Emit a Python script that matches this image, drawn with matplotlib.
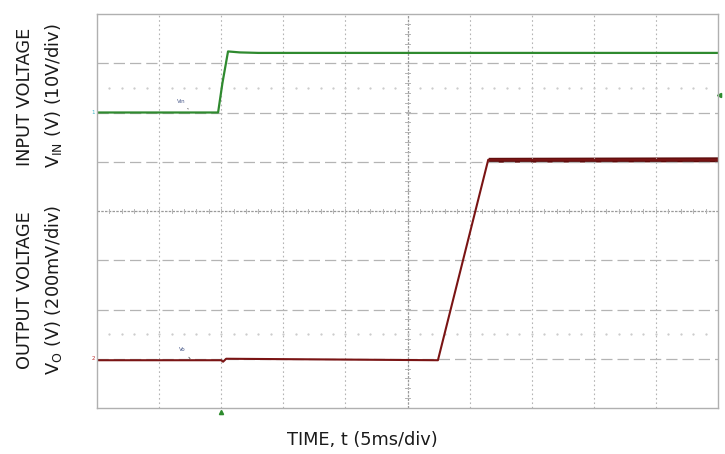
import matplotlib.pyplot as plt
import numpy as np

# time in divisions (5 ms/div), voltage in divisions from screen centre
vin_t = [0.0, 1.95, 2.02, 2.11, 2.3, 2.6, 10.0]
vin_y = [2.0, 2.0, 2.6, 3.24, 3.22, 3.21, 3.21]

vo_t = [0.0, 2.0, 2.03, 2.08, 5.49, 6.30, 10.0]
vo_y = [-3.03, -3.03, -3.06, -3.0, -3.03, 1.04, 1.04]

# noise envelope of the output plateau
vo_band_t = [6.30, 10.0]
vo_band_lo = [0.99, 1.0]
vo_band_hi = [1.09, 1.1]

ndiv_x = 10
ndiv_y = 8

fig = plt.figure(figsize=(7.25, 4.54), dpi=100)
ax = fig.add_axes([97 / 725, 46 / 454, 621 / 725, 394 / 454])
ax.set_xlim(0, ndiv_x)
ax.set_ylim(-ndiv_y / 2, ndiv_y / 2)

grid_c = '#b4b4b4'
for x in range(1, ndiv_x):
    if x == ndiv_x // 2:
        ax.axvline(x, color='#9a9a9a', lw=0.9, ls=(0, (2, 1)))
    else:
        ax.axvline(x, color=grid_c, lw=0.8, ls=(0, (1.5, 2.5)))
for y in range(-3, 4):
    if y == 0:
        ax.axhline(y, color='#9a9a9a', lw=0.9, ls=(0, (2, 1)))
    else:
        ax.axhline(y, color=grid_c, lw=0.9, ls=(0, (9, 4)))

# minor ticks along the centre lines
for x in np.arange(0, ndiv_x + 0.01, 0.2):
    ax.plot([x, x], [-0.035, 0.035], color=grid_c, lw=0.7)
for y in np.arange(-4, 4.01, 0.2):
    ax.plot([4.965, 5.035], [y, y], color=grid_c, lw=0.7)

# dotted marker rows
for y in (2.5, -2.5):
    ax.plot(np.arange(0.2, 10, 0.2), [y] * 49, ls='none', marker='.', ms=1.2, color='#c8c8c8')

for s in ax.spines.values():
    s.set_color('#b0b0b0')
    s.set_linewidth(1.0)
ax.set_xticks([])
ax.set_yticks([])

ax.plot(vin_t, vin_y, color='#2f8a2f', lw=1.6)
ax.plot(vo_t, vo_y, color='#7a1414', lw=1.5)
ax.fill_between(vo_band_t, vo_band_lo, vo_band_hi, color='#5c0d0d', lw=0)

# channel markers and labels
ax.text(-0.03, 2.0, '1', color='#40b8c8', fontsize=4, ha='right', va='center', clip_on=False)
ax.text(-0.03, -3.0, '2', color='#c03030', fontsize=4, ha='right', va='center', clip_on=False)
ax.annotate('Vin', xy=(1.5, 2.03), xytext=(1.28, 2.2), fontsize=4, color='#4a5a8a',
            arrowprops=dict(arrowstyle='-', color='#555555', lw=0.6))
ax.annotate('Vo', xy=(1.5, -3.0), xytext=(1.32, -2.85), fontsize=4, color='#4a5a8a',
            arrowprops=dict(arrowstyle='-', color='#555555', lw=0.6))
ax.plot([2.0], [-4.08], marker='^', ms=3, color='#2e8b2e', clip_on=False)
ax.plot([10.02], [2.35], marker='<', ms=3, color='#2e8b2e', clip_on=False)

txt = dict(fontsize=12.8, color='#1a1a1a', rotation=90, ha='center', va='center')
fig.text(25 / 725, 1 - 97 / 454, 'INPUT VOLTAGE', **txt)
fig.text(54 / 725, 1 - 96 / 454, r'V$_{\mathregular{IN}}$ (V) (10V/div)', **txt)
fig.text(25 / 725, 1 - 290 / 454, 'OUTPUT VOLTAGE', **txt)
fig.text(54 / 725, 1 - 290 / 454, r'V$_{\mathregular{O}}$ (V) (200mV/div)', **txt)
fig.text(362 / 725, 1 - 440 / 454, 'TIME, t (5ms/div)', fontsize=12.8, color='#1a1a1a',
         ha='center', va='center')

fig.savefig('out.png', dpi=100)
